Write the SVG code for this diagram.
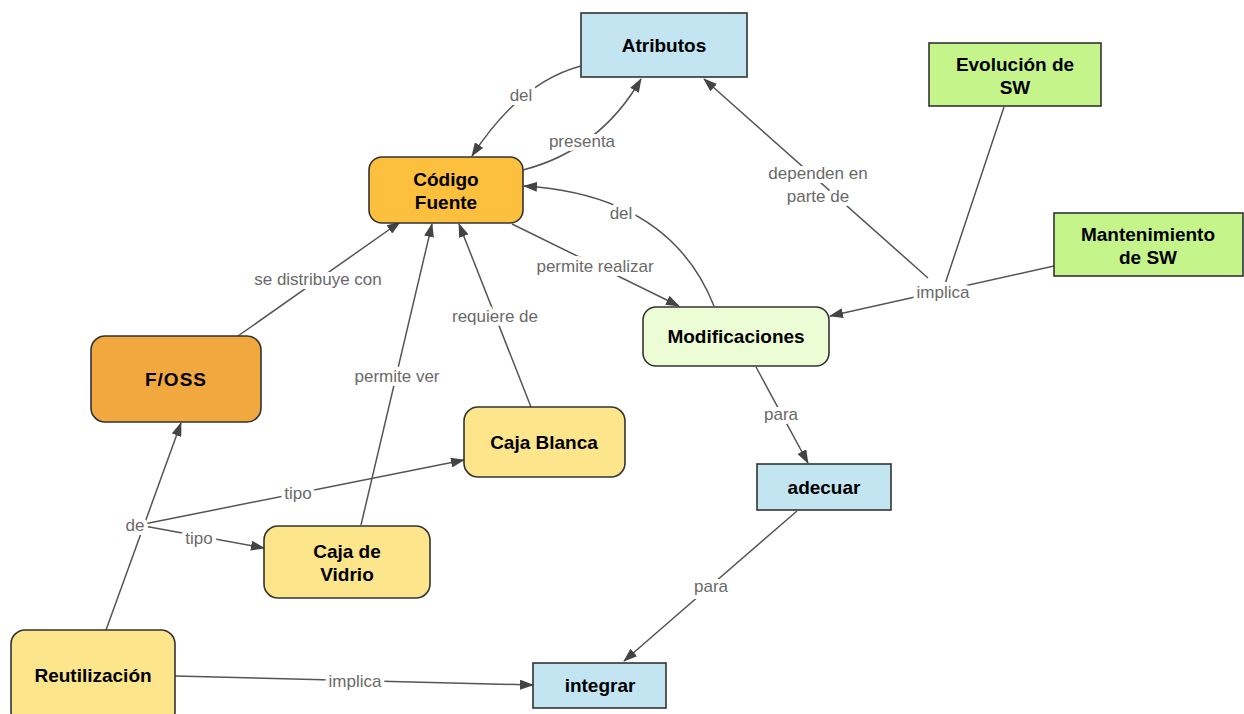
<svg xmlns="http://www.w3.org/2000/svg" width="1244" height="714" viewBox="0 0 1244 714">
  <defs>
    <marker id="arrow" viewBox="0 0 14 10" refX="13" refY="5" markerWidth="14" markerHeight="10" markerUnits="userSpaceOnUse" orient="auto">
      <path d="M0,0 L14,5 L0,10 Z" fill="#444"/>
    </marker>
    <style>
      .node { stroke: #333; stroke-width: 1.6; }
      .blue { fill: #c2e5f1; }
      .gold { fill: #fcbf3e; }
      .orange { fill: #f0a83f; }
      .yellow { fill: #fce58a; }
      .mint { fill: #ecfdd6; }
      .green { fill: #c5f48b; }
      .nt { font-family: "Liberation Sans", Arial, sans-serif; font-weight: bold; font-size: 19px; fill: #000; text-anchor: middle; }
      .edge { fill: none; stroke: #555; stroke-width: 1.5; }
      .lbl { font-family: "Liberation Sans", Arial, sans-serif; font-size: 17px; fill: #6a6a6a; text-anchor: middle; stroke: #fff; stroke-width: 8; stroke-linejoin: round; paint-order: stroke; }
    </style>
  </defs>
  <rect width="1244" height="714" fill="#fff"/>

  <!-- connectors -->
  <g id="connectors">
    <path class="edge" d="M581,66 Q520,82 472,156" marker-end="url(#arrow)"/>
    <path class="edge" d="M523,170 Q600,150 641,79" marker-end="url(#arrow)"/>
    <path class="edge" d="M714,306 Q670,195 524,186" marker-end="url(#arrow)"/>
    <path class="edge" d="M512,224 L679,306" marker-end="url(#arrow)"/>
    <path class="edge" d="M238,336 L400,222" marker-end="url(#arrow)"/>
    <path class="edge" d="M361,525 L432,224" marker-end="url(#arrow)"/>
    <path class="edge" d="M531,407 L459,224" marker-end="url(#arrow)"/>
    <path class="edge" d="M106,630 L181,423" marker-end="url(#arrow)"/>
    <path class="edge" d="M144,524 L464,460" marker-end="url(#arrow)"/>
    <path class="edge" d="M144,526 L264,548" marker-end="url(#arrow)"/>
    <path class="edge" d="M1054,266 L830,316" marker-end="url(#arrow)"/>
    <path class="edge" d="M1004,107 L945,284"/>
    <path class="edge" d="M928,278 L704,79" marker-end="url(#arrow)"/>
    <path class="edge" d="M756,367 L808,463" marker-end="url(#arrow)"/>
    <path class="edge" d="M797,511 L624,661" marker-end="url(#arrow)"/>
    <path class="edge" d="M175,676 L533,685" marker-end="url(#arrow)"/>

    <text class="lbl" x="521" y="101">del</text>
    <text class="lbl" x="582" y="147">presenta</text>
    <text class="lbl" x="621" y="219">del</text>
    <text class="lbl" x="595" y="272">permite realizar</text>
    <text class="lbl" x="318" y="285">se distribuye con</text>
    <text class="lbl" x="495" y="322">requiere de</text>
    <text class="lbl" x="397" y="382">permite ver</text>
    <text class="lbl" x="818" y="179">dependen en</text>
    <text class="lbl" x="818" y="202">parte de</text>
    <text class="lbl" x="943" y="298">implica</text>
    <text class="lbl" x="781" y="420">para</text>
    <text class="lbl" x="711" y="592">para</text>
    <text class="lbl" x="298" y="499">tipo</text>
    <text class="lbl" x="135" y="531">de</text>
    <text class="lbl" x="199" y="544">tipo</text>
    <text class="lbl" x="355" y="687">implica</text>
  </g>

  <!-- concepts -->
  <g id="atributos">
    <rect class="node blue" x="581" y="13" width="166" height="64"/>
    <text class="nt" x="664" y="52">Atributos</text>
  </g>
  <g id="codigo-fuente">
    <rect class="node gold" x="369" y="157" width="154" height="66" rx="13"/>
    <text class="nt" x="446" y="186">Código</text>
    <text class="nt" x="446" y="209">Fuente</text>
  </g>
  <g id="evolucion-sw">
    <rect class="node green" x="929" y="43" width="172" height="63"/>
    <text class="nt" x="1015" y="71">Evolución de</text>
    <text class="nt" x="1015" y="94">SW</text>
  </g>
  <g id="mantenimiento-sw">
    <rect class="node green" x="1054" y="213" width="189" height="63"/>
    <text class="nt" x="1148" y="241">Mantenimiento</text>
    <text class="nt" x="1148" y="264">de SW</text>
  </g>
  <g id="modificaciones">
    <rect class="node mint" x="643" y="307" width="186" height="59" rx="13"/>
    <text class="nt" x="736" y="343">Modificaciones</text>
  </g>
  <g id="foss">
    <rect class="node orange" x="91" y="336" width="170" height="86" rx="14"/>
    <text class="nt" x="176" y="386" letter-spacing="1">F/OSS</text>
  </g>
  <g id="caja-blanca">
    <rect class="node yellow" x="464" y="407" width="161" height="70" rx="14"/>
    <text class="nt" x="544" y="449">Caja Blanca</text>
  </g>
  <g id="caja-vidrio">
    <rect class="node yellow" x="264" y="526" width="166" height="72" rx="14"/>
    <text class="nt" x="347" y="558">Caja de</text>
    <text class="nt" x="347" y="581">Vidrio</text>
  </g>
  <g id="reutilizacion">
    <rect class="node yellow" x="11" y="630" width="164" height="96" rx="14"/>
    <text class="nt" x="93" y="682">Reutilización</text>
  </g>
  <g id="adecuar">
    <rect class="node blue" x="757" y="464" width="134" height="46"/>
    <text class="nt" x="824" y="494">adecuar</text>
  </g>
  <g id="integrar">
    <rect class="node blue" x="533" y="663" width="133" height="45"/>
    <text class="nt" x="600" y="692">integrar</text>
  </g>
</svg>
